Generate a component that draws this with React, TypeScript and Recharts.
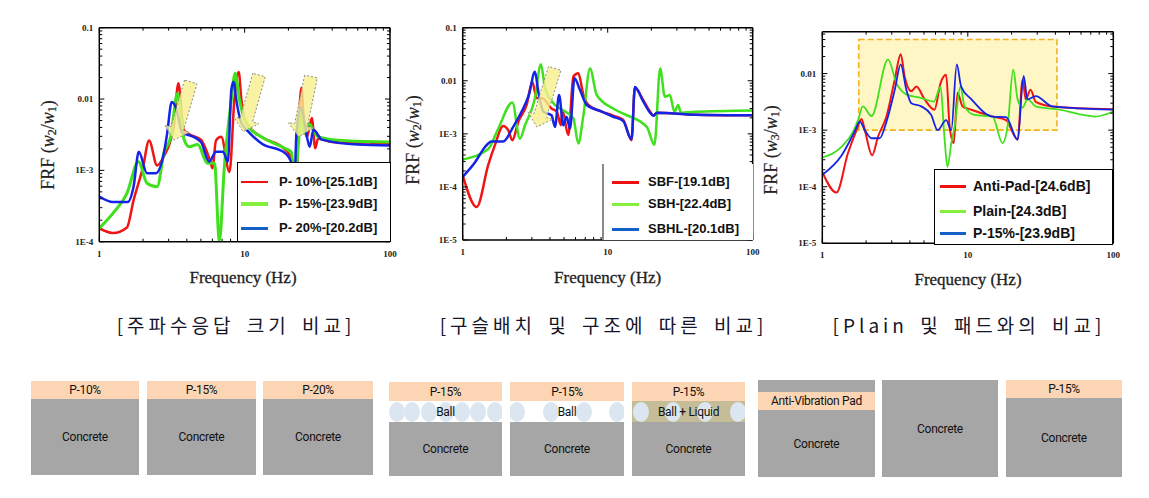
import React from 'react';
import { LineChart, Line, XAxis, YAxis, ReferenceArea, Legend, Label } from 'recharts';

// ---------------- Chart 1: 주파수응답 크기 비교 ----------------
const p10Freq = [1, 1.1, 1.24, 1.55, 1.72, 2.0, 2.2, 2.5, 2.77, 3.25, 3.5, 3.8, 4.05, 5.0, 5.85, 6.0, 6.35, 6.9, 7.87, 8.5, 9.1, 9.5, 10, 13, 18, 20, 21.6, 22.5, 23.5, 24.6, 25.5, 26.8, 29, 30.6, 32, 40, 50, 60, 70, 85, 100];
const p10Frf = [1.55e-4, 1.41e-4, 1.32e-4, 1.58e-4, 3.8e-4, 1.12e-3, 2.63e-3, 1.17e-3, 1.55e-3, 4.07e-3, 1.66e-2, 3.72e-3, 3.31e-3, 2.69e-3, 1.26e-3, 1.07e-3, 2.63e-3, 2.95e-3, 9.5e-4, 9.8e-3, 2.4e-2, 9.8e-3, 5.1e-3, 2.95e-3, 2.14e-3, 1.74e-3, 1.26e-3, 5e-4, 4e-3, 1.45e-2, 5e-3, 2.95e-3, 5.4e-3, 2.04e-3, 2.8e-3, 2.5e-3, 2.45e-3, 2.4e-3, 2.3e-3, 2.4e-3, 2.34e-3];
const p15Freq = [1, 1.24, 1.55, 1.86, 2.13, 2.5, 2.78, 3.1, 3.45, 3.83, 4.15, 4.75, 5.55, 6.2, 6.7, 7.25, 8.1, 8.6, 9.2, 10.6, 13, 18.9, 21, 22, 23.5, 24.5, 25.5, 27.5, 32, 50, 100];
const p15Frf = [1.55e-4, 2.5e-4, 4.8e-4, 1.32e-3, 6.6e-4, 5.9e-4, 1.74e-3, 2.95e-3, 1.2e-2, 2.7e-3, 2.14e-3, 2.3e-3, 1.26e-3, 1.26e-3, 1.02e-4, 1.12e-3, 9.8e-3, 2.3e-2, 9.8e-3, 4.1e-3, 2.95e-3, 2.04e-3, 1.8e-3, 6.3e-4, 2.5e-3, 7.1e-3, 3.3e-3, 4.5e-3, 2.95e-3, 2.6e-3, 2.5e-3];
const p20Freq = [1, 1.24, 1.57, 1.72, 1.87, 2.13, 2.44, 2.78, 2.93, 3.15, 3.35, 3.73, 4.05, 5.0, 5.7, 6.35, 7.1, 7.66, 8.1, 8.4, 8.75, 9.5, 10.6, 13, 19, 21, 22, 22.7, 24.4, 26, 28, 29.7, 34, 60, 100];
const p20Frf = [4.3e-4, 3.6e-4, 3.6e-4, 5.9e-4, 1.82e-3, 9.1e-4, 9.1e-4, 1.74e-3, 3.3e-3, 9.1e-3, 7.8e-3, 3.3e-3, 3.16e-3, 2.5e-3, 1.32e-3, 1.82e-3, 1.82e-3, 1.32e-3, 1.35e-2, 1.74e-2, 9.8e-3, 4.6e-3, 3.5e-3, 2.4e-3, 1.74e-3, 1.26e-3, 6.3e-4, 3.3e-3, 7.8e-3, 4.3e-3, 2.14e-3, 3.7e-3, 2.7e-3, 2.3e-3, 2.24e-3];

// ---------------- Chart 2: 구슬배치 및 구조에 따른 비교 ----------------
const sbfFreq = [1, 1.25, 1.5, 1.67, 1.9, 2.06, 2.2, 2.42, 2.76, 3.02, 3.24, 3.54, 4.1, 4.45, 4.76, 4.86, 5.35, 5.8, 6.27, 6.8, 7.35, 9.1, 10.9, 12.8, 14.6, 15.4, 17.5, 19.6, 20.7, 21.8, 40, 100];
const sbfFrf = [1.66e-4, 4.2e-5, 2.6e-4, 6.2e-4, 1.41e-3, 1.17e-3, 7.6e-4, 1.7e-3, 3.5e-3, 9.5e-3, 4.7e-3, 4.7e-3, 3.0e-3, 2.63e-3, 1.45e-3, 2.8e-3, 9.5e-4, 1.2e-2, 1.38e-2, 5.4e-3, 3.5e-3, 2.63e-3, 2.2e-3, 1.82e-3, 7.6e-4, 7.4e-3, 4.4e-3, 2.63e-3, 2.2e-3, 2.5e-3, 2.3e-3, 2.24e-3];
const sbhFreq = [1, 1.5, 1.76, 2.2, 2.48, 2.69, 3.15, 3.46, 3.7, 4.33, 5.1, 5.8, 6.27, 6.8, 7.55, 8.4, 10.9, 12.8, 18.6, 21, 23, 24.8, 26.8, 28.9, 30.6, 32, 40, 100];
const sbhFrf = [3.3e-4, 5.2e-4, 1.26e-3, 3.9e-3, 8.1e-4, 1.45e-3, 4.7e-3, 2.04e-2, 7.2e-3, 3.5e-3, 2.63e-3, 1.95e-3, 6.6e-4, 2.24e-3, 1.7e-2, 5.4e-3, 3.0e-3, 2.4e-3, 1.35e-3, 6.2e-4, 1.7e-2, 5.0e-3, 5.4e-3, 2.6e-3, 3.5e-3, 2.5e-3, 2.6e-3, 2.75e-3];
const sbhlFreq = [1, 1.22, 1.42, 1.58, 1.9, 2.23, 2.55, 2.86, 3.15, 3.32, 3.6, 4.1, 4.33, 4.62, 4.94, 5.2, 5.5, 5.9, 6.45, 7.17, 9.1, 10.9, 12.8, 14.6, 15.4, 17.5, 19.6, 20.7, 21.8, 40, 100];
const sbhlFrf = [1.55e-4, 2.95e-4, 5.6e-4, 7.2e-4, 7.2e-4, 1.35e-3, 2.63e-3, 5.4e-3, 1.48e-2, 6.3e-3, 2.63e-3, 2.24e-3, 1.35e-3, 5.4e-3, 1.45e-3, 2.1e-3, 1.26e-3, 1.12e-2, 6.6e-3, 3.5e-3, 2.63e-3, 2.1e-3, 1.74e-3, 7.9e-4, 7.6e-3, 4.2e-3, 2.5e-3, 2.2e-3, 2.5e-3, 2.3e-3, 2.24e-3];

// ---------------- Chart 3: Plain 및 패드와의 비교 ----------------
const antiFreq = [1, 1.25, 1.5, 1.72, 1.86, 1.96, 2.2, 2.42, 2.76, 3.15, 3.46, 3.68, 4.09, 4.43, 5.05, 5.9, 6.5, 7.1, 7.5, 8.0, 8.5, 9.2, 10.6, 14.8, 18.3, 22, 23.8, 25, 27, 29.3, 38, 100];
const antiFrf = [1.82e-4, 7.9e-5, 3.9e-4, 1.0e-3, 1.58e-3, 1.0e-3, 3.6e-4, 7.8e-4, 1.74e-3, 7.9e-3, 2.2e-2, 8.9e-3, 4.9e-3, 5.9e-3, 3.5e-3, 2.3e-3, 6.8e-3, 9.5e-3, 1.15e-3, 5.9e-4, 4.6e-3, 2.63e-3, 2.3e-3, 1.74e-3, 1.51e-3, 6.8e-4, 7.9e-3, 3.5e-3, 5.2e-3, 3.16e-3, 2.63e-3, 2.34e-3];
const plainFreq = [1, 1.36, 1.63, 1.76, 1.9, 2.18, 2.83, 3.23, 3.78, 4.79, 5.85, 6.5, 6.9, 7.25, 7.7, 8.1, 8.9, 9.5, 11.1, 14.8, 17.3, 18.8, 20.5, 22, 23.8, 25.7, 29.3, 42.5, 75, 100];
const plainFrf = [3.3e-4, 5.1e-4, 9.5e-4, 1.51e-3, 2.63e-3, 1.78e-3, 1.78e-2, 6.8e-3, 4.3e-3, 3.7e-3, 3.2e-3, 5.9e-3, 7.8e-4, 2.24e-4, 5.9e-4, 1.12e-3, 5.9e-3, 2.63e-3, 1.86e-3, 1.74e-3, 5.9e-4, 1.2e-3, 1.17e-2, 3.5e-3, 2.5e-3, 3.55e-3, 2.63e-3, 2.3e-3, 1.74e-3, 2.14e-3];
const p15bFreq = [1, 1.36, 1.67, 1.81, 1.96, 2.18, 2.48, 2.76, 3.15, 3.46, 3.78, 4.09, 4.79, 5.6, 6.2, 7.1, 7.7, 8.4, 9.0, 10.6, 14.8, 18.3, 22, 24.2, 25.7, 29.3, 38, 100];
const p15bFrf = [1.62e-4, 3.6e-4, 9.5e-4, 1.41e-3, 1.0e-3, 7.2e-4, 7.2e-4, 1.41e-3, 5.2e-3, 1.45e-2, 5.2e-3, 3.0e-3, 2.63e-3, 1.86e-3, 1.0e-3, 1.51e-3, 1.0e-3, 1.45e-2, 5.9e-3, 3.5e-3, 1.74e-3, 1.7e-3, 6.8e-4, 9.1e-3, 3.5e-3, 4.0e-3, 2.63e-3, 2.3e-3];

// Axis ticks
const FREQ_TICKS = [1, 2, 3, 4, 5, 6, 7, 8, 9, 10, 20, 30, 40, 50, 60, 70, 80, 90, 100];
const Y_DECADES_1 = [1e-4, 1e-3, 1e-2, 1e-1];
const Y_DECADES_2 = [1e-5, 1e-4, 1e-3, 1e-2, 1e-1];
const Y_DECADES_3 = [1e-5, 1e-4, 1e-3, 1e-2];
const Y_LABELS: Record<string, string> = { '-1': '0.1', '-2': '0.01', '-3': '1E-3', '-4': '1E-4', '-5': '1E-5' };
const X_LABELS: Record<string, string> = { '0': '1', '1': '10', '2': '100' };

// Annotation arrows (data coordinates: tail at top-right, tip at bottom-left)
const arrows1 = [
  { tipF: 3.26, tipV: 2.66e-3, tailF: 4.26, tailV: 1.74e-2 },
  { tipF: 9.75, tipV: 3.48e-3, tailF: 12.55, tailV: 2.17e-2 },
  { tipF: 23.5, tipV: 2.95e-3, tailF: 28.6, tailV: 2.07e-2 },
];
const arrows2 = [{ tipF: 3.24, tipV: 1.35e-3, tailF: 4.31, tailV: 1.71e-2 }];
const box3 = { f1: 1.78, f2: 41, v1: 1e-3, v2: 0.04 };

const zip = (freq: number[], frf: number[]) => freq.map((f, i) => ({ f, v: frf[i] }));

const logTicks = (decades: number[], max: number) => {
  const out: number[] = [];
  decades.forEach((d) => {
    for (let m = 1; m <= 9; m++) {
      const v = d * m;
      if (v <= max * 1.0001) out.push(v);
    }
  });
  return out;
};

const isMajor = (v: number) => Math.abs(Math.log10(v) - Math.round(Math.log10(v))) < 1e-6;

const TICK_FONT = { fontFamily: '"Liberation Serif", serif', fontSize: 9, fontWeight: 700, fill: '#222' };

const makeTick = (side: 'bottom' | 'top' | 'left' | 'right', showLabel: boolean) => (p: any) => {
  const { x, y, payload } = p;
  const v = payload.value;
  const major = isMajor(v);
  const len = major ? 5 : 3;
  const k = String(Math.round(Math.log10(v)));
  let line;
  if (side === 'bottom') line = <line x1={x} y1={y} x2={x} y2={y - len} stroke="#000" strokeWidth={1} />;
  else if (side === 'top') line = <line x1={x} y1={y} x2={x} y2={y + len} stroke="#000" strokeWidth={1} />;
  else if (side === 'left') line = <line x1={x} y1={y} x2={x + len} y2={y} stroke="#000" strokeWidth={1} />;
  else line = <line x1={x} y1={y} x2={x - len} y2={y} stroke="#000" strokeWidth={1} />;
  return (
    <g>
      {line}
      {showLabel && major && side === 'bottom' && (
        <text x={x} y={y + 15} textAnchor="middle" {...TICK_FONT}>{X_LABELS[k]}</text>
      )}
      {showLabel && major && side === 'left' && (
        <text x={x - 6} y={y + 3} textAnchor="end" {...TICK_FONT}>{Y_LABELS[k]}</text>
      )}
    </g>
  );
};

const arrowShape = (props: any) => {
  const { x, y, width, height } = props;
  if (![x, y, width, height].every((n) => Number.isFinite(n))) return <g />;
  const tx = x + width, ty = y;
  const px = x, py = y + height;
  const dx = px - tx, dy = py - ty;
  const L = Math.hypot(dx, dy) || 1;
  const ux = dx / L, uy = dy / L;
  const nx = -uy, ny = ux;
  const sw = 13, hw = 26, hl = 12;
  const bx = px - ux * hl, by = py - uy * hl;
  const pts = [
    [tx + (nx * sw) / 2, ty + (ny * sw) / 2],
    [bx + (nx * sw) / 2, by + (ny * sw) / 2],
    [bx + (nx * hw) / 2, by + (ny * hw) / 2],
    [px, py],
    [bx - (nx * hw) / 2, by - (ny * hw) / 2],
    [bx - (nx * sw) / 2, by - (ny * sw) / 2],
    [tx - (nx * sw) / 2, ty - (ny * sw) / 2],
  ];
  return (
    <polygon
      points={pts.map((q) => q.join(',')).join(' ')}
      fill="#f7ef8e"
      fillOpacity={0.82}
      stroke="#8a8a8a"
      strokeWidth={1}
      strokeDasharray="2 2"
    />
  );
};

type Series = { name: string; freq: number[]; frf: number[]; color: string; width: number; legendColor: string; legendWidth: number };

type ChartCfg = {
  left: number;
  width: number;
  plot: { l: number; t: number; r: number; b: number };
  yDecades: number[];
  yMax: number;
  series: Series[];
  legend: { left: number; top: number; width: number; height: number; border: string; leftOnly?: boolean; rows: number[]; swatchX: number; swatchW: number; textX: number; fontSize: number };
  yTitle: { x: number; y: number; sub: string };
  xTitle: { x: number; y: number };
  arrows?: { tipF: number; tipV: number; tailF: number; tailV: number }[];
  box?: { f1: number; f2: number; v1: number; v2: number };
};

const H = 300;
const YW = 60;
const XH = 30;

function FrfChart({ cfg }: { cfg: ChartCfg }) {
  const { left, width, plot } = cfg;
  const margin = { top: plot.t - 1, right: width - plot.r - 1, bottom: H - plot.b - XH, left: plot.l - YW };
  const yTicks = logTicks(cfg.yDecades, cfg.yMax);
  const yDomain: [number, number] = [cfg.yDecades[0], cfg.yMax];
  const lg = cfg.legend;

  const renderLegend = () => (
    <div
      style={{
        position: 'relative',
        width: lg.width,
        height: lg.height,
        background: '#fff',
        boxSizing: 'border-box',
        border: lg.leftOnly ? 'none' : lg.border,
        borderLeft: lg.border,
      }}
    >
      {cfg.series.map((s, i) => (
        <React.Fragment key={s.name}>
          <div
            style={{
              position: 'absolute',
              left: lg.swatchX,
              top: lg.rows[i] - s.legendWidth / 2,
              width: lg.swatchW,
              height: s.legendWidth,
              background: s.legendColor,
            }}
          />
          <div
            style={{
              position: 'absolute',
              left: lg.textX,
              top: lg.rows[i] - 10,
              lineHeight: '20px',
              fontFamily: '"Liberation Sans", Arial, sans-serif',
              fontWeight: 700,
              fontSize: lg.fontSize,
              color: '#111',
              whiteSpace: 'nowrap',
            }}
          >
            {s.name}
          </div>
        </React.Fragment>
      ))}
    </div>
  );

  const yTitle = () => (
    <text
      x={cfg.yTitle.x}
      y={cfg.yTitle.y}
      transform={`rotate(-90 ${cfg.yTitle.x} ${cfg.yTitle.y})`}
      textAnchor="middle"
      dominantBaseline="central"
      fontFamily='"Liberation Serif", serif'
      fontSize={18}
      fill="#222"
      stroke="#222"
      strokeWidth={0.2}
    >
      <tspan>FRF (</tspan>
      <tspan fontStyle="italic">w</tspan>
      <tspan fontSize={12} dy={4}>{cfg.yTitle.sub}</tspan>
      <tspan dy={-4}>/</tspan>
      <tspan fontStyle="italic">w</tspan>
      <tspan fontSize={12} dy={4}>1</tspan>
      <tspan dy={-4}>)</tspan>
    </text>
  );

  const xTitle = () => (
    <text
      x={cfg.xTitle.x}
      y={cfg.xTitle.y}
      textAnchor="middle"
      dominantBaseline="central"
      fontFamily='"Liberation Serif", serif'
      fontSize={17}
      fill="#222"
      stroke="#222"
      strokeWidth={0.3}
    >
      Frequency (Hz)
    </text>
  );

  const axisLine = { stroke: '#000', strokeWidth: 1.5 };

  return (
    <div style={{ position: 'absolute', left, top: 0, width, height: H }}>
      <LineChart width={width} height={H} margin={margin}>
        <XAxis
          xAxisId="b"
          dataKey="f"
          type="number"
          scale="log"
          domain={[1, 100]}
          ticks={FREQ_TICKS}
          interval={0}
          allowDataOverflow
          height={XH}
          tickSize={0}
          tickMargin={0}
          tickLine={false}
          axisLine={axisLine}
          tick={makeTick('bottom', true)}
        >
          <Label content={xTitle} />
        </XAxis>
        <XAxis
          xAxisId="t"
          orientation="top"
          dataKey="f"
          type="number"
          scale="log"
          domain={[1, 100]}
          ticks={FREQ_TICKS}
          interval={0}
          allowDataOverflow
          height={1}
          tickSize={0}
          tickMargin={0}
          tickLine={false}
          axisLine={axisLine}
          tick={makeTick('top', false)}
        />
        <YAxis
          yAxisId="l"
          type="number"
          scale="log"
          domain={yDomain}
          ticks={yTicks}
          interval={0}
          allowDataOverflow
          width={YW}
          tickSize={0}
          tickMargin={0}
          tickLine={false}
          axisLine={axisLine}
          tick={makeTick('left', true)}
        >
          <Label content={yTitle} />
        </YAxis>
        <YAxis
          yAxisId="r"
          orientation="right"
          type="number"
          scale="log"
          domain={yDomain}
          ticks={yTicks}
          interval={0}
          allowDataOverflow
          width={1}
          tickSize={0}
          tickMargin={0}
          tickLine={false}
          axisLine={axisLine}
          tick={makeTick('right', false)}
        />
        {cfg.box && (
          <ReferenceArea
            xAxisId="b"
            yAxisId="l"
            x1={cfg.box.f1}
            x2={cfg.box.f2}
            y1={cfg.box.v1}
            y2={cfg.box.v2}
            fill="#fff6c6"
            fillOpacity={1}
            stroke="#f3b21a"
            strokeWidth={1.6}
            strokeDasharray="6 3"
          />
        )}
        {cfg.series.map((s) => (
          <Line
            key={s.name}
            xAxisId="b"
            yAxisId="l"
            data={zip(s.freq, s.frf)}
            dataKey="v"
            name={s.name}
            type="monotone"
            stroke={s.color}
            strokeWidth={s.width}
            strokeLinejoin="round"
            dot={false}
            activeDot={false}
            isAnimationActive={false}
          />
        ))}
        {(cfg.arrows || []).map((a, i) => (
          <ReferenceArea
            key={`ar${i}`}
            xAxisId="b"
            yAxisId="l"
            x1={a.tipF}
            x2={a.tailF}
            y1={a.tipV}
            y2={a.tailV}
            shape={arrowShape}
            zIndex={600}
          />
        ))}
        <Legend
          layout="vertical"
          align="center"
          verticalAlign="middle"
          content={renderLegend}
          wrapperStyle={{ position: 'absolute', left: lg.left, top: lg.top, width: lg.width, height: lg.height, bottom: 'auto', right: 'auto' }}
        />
      </LineChart>
    </div>
  );
}

const RED = '#f01414';
const GREEN = '#3fe01c';
const BLUE = '#1424e6';

const chart1: ChartCfg = {
  left: 0,
  width: 400,
  plot: { l: 99.3, t: 27.7, r: 390, b: 241.7 },
  yDecades: Y_DECADES_1,
  yMax: 0.1,
  series: [
    { name: 'P- 10%-[25.1dB]', freq: p10Freq, frf: p10Frf, color: RED, width: 2.5, legendColor: '#ee1111', legendWidth: 2 },
    { name: 'P- 15%-[23.9dB]', freq: p15Freq, frf: p15Frf, color: GREEN, width: 3, legendColor: '#86ee3c', legendWidth: 4 },
    { name: 'P- 20%-[20.2dB]', freq: p20Freq, frf: p20Frf, color: BLUE, width: 2.5, legendColor: '#1460c4', legendWidth: 3 },
  ],
  legend: { left: 237, top: 162, width: 154, height: 80, border: '1.5px solid #000', rows: [19, 41, 65], swatchX: 3, swatchW: 27, textX: 41, fontSize: 13 },
  yTitle: { x: 48, y: 145, sub: '2' },
  xTitle: { x: 243, y: 277 },
  arrows: arrows1,
};

const chart2: ChartCfg = {
  left: 390,
  width: 380,
  plot: { l: 72.7, t: 27.7, r: 362.7, b: 240 },
  yDecades: Y_DECADES_2,
  yMax: 0.1,
  series: [
    { name: 'SBF-[19.1dB]', freq: sbfFreq, frf: sbfFrf, color: RED, width: 2.5, legendColor: '#ee1111', legendWidth: 3 },
    { name: 'SBH-[22.4dB]', freq: sbhFreq, frf: sbhFrf, color: GREEN, width: 2.5, legendColor: '#86ee3c', legendWidth: 3 },
    { name: 'SBHL-[20.1dB]', freq: sbhlFreq, frf: sbhlFrf, color: BLUE, width: 2.5, legendColor: '#1460c4', legendWidth: 3 },
  ],
  legend: { left: 212, top: 164, width: 151, height: 76, border: '2px solid #8a8a8a', leftOnly: true, rows: [18, 40, 65], swatchX: 8, swatchW: 27, textX: 44, fontSize: 13 },
  yTitle: { x: 23, y: 140, sub: '2' },
  xTitle: { x: 217.7, y: 277 },
  arrows: arrows2,
};

const chart3: ChartCfg = {
  left: 755,
  width: 394,
  plot: { l: 67.3, t: 31.7, r: 358.3, b: 243.3 },
  yDecades: Y_DECADES_3,
  yMax: 0.055,
  series: [
    { name: 'Anti-Pad-[24.6dB]', freq: antiFreq, frf: antiFrf, color: RED, width: 2, legendColor: '#ee1111', legendWidth: 3 },
    { name: 'Plain-[24.3dB]', freq: plainFreq, frf: plainFrf, color: GREEN, width: 1.8, legendColor: '#86ee3c', legendWidth: 3 },
    { name: 'P-15%-[23.9dB]', freq: p15bFreq, frf: p15bFrf, color: BLUE, width: 1.8, legendColor: '#1460c4', legendWidth: 3 },
  ],
  legend: { left: 179, top: 169, width: 179, height: 76, border: '1.5px solid #000', rows: [16, 41, 63], swatchX: 5, swatchW: 26, textX: 38, fontSize: 14 },
  yTitle: { x: 16, y: 150, sub: '3' },
  xTitle: { x: 213, y: 279 },
  box: box3,
};

// ---------------- Captions ----------------
const captions = [
  { text: '[주파수응답 크기 비교]', cx: 236 },
  { text: '[구슬배치 및 구조에 따른 비교]', cx: 603.5 },
  { text: '[Plain 및 패드와의 비교]', cx: 969 },
];

// ---------------- Structure diagrams ----------------
const PEACH = '#fcd5b4';
const GREY = '#a6a6a6';
const BALL = '#dce6f1';
const TAN = '#c4bd97';
const DIAG_FONT: React.CSSProperties = { fontFamily: 'Roboto, "Noto Sans", sans-serif', fontSize: 12, color: '#111', letterSpacing: -0.3, whiteSpace: 'nowrap' };

type Layer = { h: number; color: string; text?: string; balls?: number[] };
type Diagram = { x: number; y: number; w: number; h: number; layers: Layer[] };

const diagrams: Diagram[] = [
  { x: 31, y: 381, w: 108, h: 94, layers: [{ h: 18, color: PEACH, text: 'P-10%' }, { h: 76, color: GREY, text: 'Concrete' }] },
  { x: 147, y: 381, w: 109, h: 94, layers: [{ h: 18, color: PEACH, text: 'P-15%' }, { h: 76, color: GREY, text: 'Concrete' }] },
  { x: 263, y: 381, w: 110, h: 94, layers: [{ h: 18, color: PEACH, text: 'P-20%' }, { h: 76, color: GREY, text: 'Concrete' }] },
  { x: 389, y: 382, w: 113, h: 94, layers: [{ h: 19, color: PEACH, text: 'P-15%' }, { h: 21, color: '#fff', text: 'Ball', balls: [8, 23, 40, 57, 73, 89, 106] }, { h: 54, color: GREY, text: 'Concrete' }] },
  { x: 510, y: 382, w: 114, h: 94, layers: [{ h: 19, color: PEACH, text: 'P-15%' }, { h: 21, color: '#fff', text: 'Ball', balls: [7, 41, 74, 107] }, { h: 54, color: GREY, text: 'Concrete' }] },
  { x: 632, y: 382, w: 113, h: 94, layers: [{ h: 19, color: PEACH, text: 'P-15%' }, { h: 21, color: TAN, text: 'Ball + Liquid', balls: [9, 41, 73, 106] }, { h: 54, color: GREY, text: 'Concrete' }] },
  { x: 758, y: 380, w: 117, h: 97, layers: [{ h: 12, color: GREY }, { h: 18, color: PEACH, text: 'Anti-Vibration Pad' }, { h: 67, color: GREY, text: 'Concrete' }] },
  { x: 882, y: 380, w: 116, h: 97, layers: [{ h: 97, color: GREY, text: 'Concrete' }] },
  { x: 1006, y: 380, w: 116, h: 97, layers: [{ h: 18, color: PEACH, text: 'P-15%' }, { h: 79, color: GREY, text: 'Concrete' }] },
];

function DiagramBox({ d }: { d: Diagram }) {
  return (
    <div style={{ position: 'absolute', left: d.x, top: d.y, width: d.w, height: d.h, display: 'flex', flexDirection: 'column' }}>
      {d.layers.map((l, i) => (
        <div key={i} style={{ position: 'relative', height: l.h, background: l.color, overflow: 'hidden' }}>
          {(l.balls || []).map((bx, j) => (
            <div
              key={j}
              style={{ position: 'absolute', left: bx - 8, top: 0.5, width: 16, height: 20, borderRadius: '50%', background: BALL }}
            />
          ))}
          {l.text && (
            <div style={{ position: 'absolute', left: 0, right: 0, top: '50%', transform: 'translateY(-50%)', textAlign: 'center', ...DIAG_FONT }}>
              {l.text}
            </div>
          )}
        </div>
      ))}
    </div>
  );
}

export default function App() {
  return (
    <div style={{ position: 'absolute', left: 0, top: 0, width: 1149, height: 498, background: '#fff', overflow: 'hidden' }}>
      <FrfChart cfg={chart1} />
      <FrfChart cfg={chart2} />
      <FrfChart cfg={chart3} />
      {captions.map((c) => (
        <div
          key={c.text}
          style={{
            position: 'absolute',
            left: c.cx - 200,
            width: 400,
            top: 312,
            lineHeight: '26px',
            textAlign: 'center',
            fontFamily: '"Noto Sans CJK KR", sans-serif',
            fontSize: 19,
            letterSpacing: 4,
            wordSpacing: 4,
            color: '#15152a',
            whiteSpace: 'nowrap',
          }}
        >
          {c.text}
        </div>
      ))}
      {diagrams.map((d, i) => (
        <DiagramBox key={i} d={d} />
      ))}
    </div>
  );
}
